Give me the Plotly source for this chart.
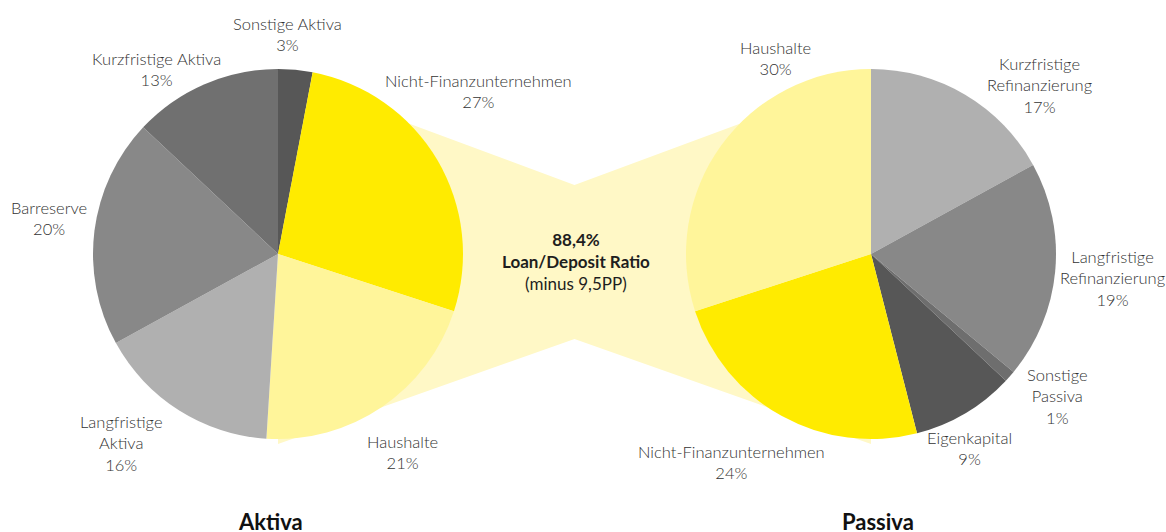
import plotly.graph_objects as go

# ---- data ----
aktiva_labels = ["Sonstige Aktiva", "Nicht-Finanzunternehmen", "Haushalte",
                 "Langfristige<br>Aktiva", "Barreserve", "Kurzfristige Aktiva"]
aktiva_values = [3, 27, 21, 16, 20, 13]
aktiva_colors = ["#575757", "#FFEB00", "#FFF59A", "#B0B0B0", "#888888", "#707070"]

passiva_labels = ["Kurzfristige<br>Refinanzierung", "Langfristige<br>Refinanzierung",
                  "Sonstige<br>Passiva", "Eigenkapital", "Nicht-Finanzunternehmen", "Haushalte"]
passiva_values = [17, 19, 1, 9, 24, 30]
passiva_colors = ["#B0B0B0", "#888888", "#6E6E6E", "#575757", "#FFEB00", "#FFF59A"]

titles = ["Aktiva", "Passiva"]
center_text = "<b>88,4%</b><br><b>Loan/Deposit Ratio</b><br>(minus 9,5PP)"

# ---- layout helpers (pixels) ----
W, H = 1166, 532
FONT = "Lato"
R = 185
left_c = (278, 254)
right_c = (871, 254)
# label block centres relative to each pie centre
aktiva_label_offsets = [(9, -220), (200, -162), (124, 198), (-157, 189), (-229, -36), (-121, -185)]
passiva_label_offsets = [(168, -168), (241, 24), (186, 142), (98, 194), (-140, 208), (-96, -196)]
title_positions = [(270, 506), (878, 506)]


def dom(c):
    return dict(x=[(c[0] - R) / W, (c[0] + R) / W],
                y=[1 - (c[1] + R) / H, 1 - (c[1] - R) / H])


def pxy(x, y):
    return x / W, 1 - y / H


fig = go.Figure()
for labels, values, colors, c, offs in [
        (aktiva_labels, aktiva_values, aktiva_colors, left_c, aktiva_label_offsets),
        (passiva_labels, passiva_values, passiva_colors, right_c, passiva_label_offsets)]:
    fig.add_trace(go.Pie(
        labels=labels, values=values, sort=False, direction="clockwise", rotation=0,
        marker=dict(colors=colors, line=dict(width=0)),
        textinfo="none", domain=dom(c), showlegend=False, hoverinfo="label+percent",
    ))
    total = sum(values)
    for lab, v, (dx, dy) in zip(labels, values, offs):
        x, y = pxy(c[0] + dx, c[1] + dy)
        fig.add_annotation(x=x, y=y, xref="paper", yref="paper", showarrow=False,
                           text=f"{lab}<br>{round(100 * v / total)}%",
                           xanchor="center", yanchor="middle",
                           font=dict(family=FONT, size=16.5, color="#333333", weight=300))

# connecting band behind the pies
waist_x = (left_c[0] + right_c[0]) / 2
pts = [(left_c[0], 75), (waist_x, 185), (right_c[0], 75),
       (right_c[0], 444), (waist_x, 339), (left_c[0], 444)]
path = "M " + " L ".join("%.5f %.5f" % pxy(*p) for p in pts) + " Z"
fig.add_shape(type="path", path=path, xref="paper", yref="paper",
              fillcolor="#FFF8C6", line=dict(width=0), layer="below")

cx, cy = pxy(waist_x + 1, 261)
fig.add_annotation(x=cx, y=cy, xref="paper", yref="paper", text=center_text, showarrow=False,
                   xanchor="center", yanchor="middle",
                   font=dict(family=FONT, size=17, color="#1e1e1e"))

for t, c in zip(titles, title_positions):
    x, y = pxy(*c)
    fig.add_annotation(x=x, y=y, xref="paper", yref="paper", text=f"<b>{t}</b>",
                       showarrow=False, xanchor="center", yanchor="top",
                       font=dict(family=FONT, size=22, color="#111111"))

fig.update_layout(width=W, height=H, margin=dict(l=0, r=0, t=0, b=0),
                  paper_bgcolor="white", plot_bgcolor="white", font=dict(family=FONT))
fig.write_html("out.html", config={"displayModeBar": False},
               post_script="document.body.style.margin='0px';")
